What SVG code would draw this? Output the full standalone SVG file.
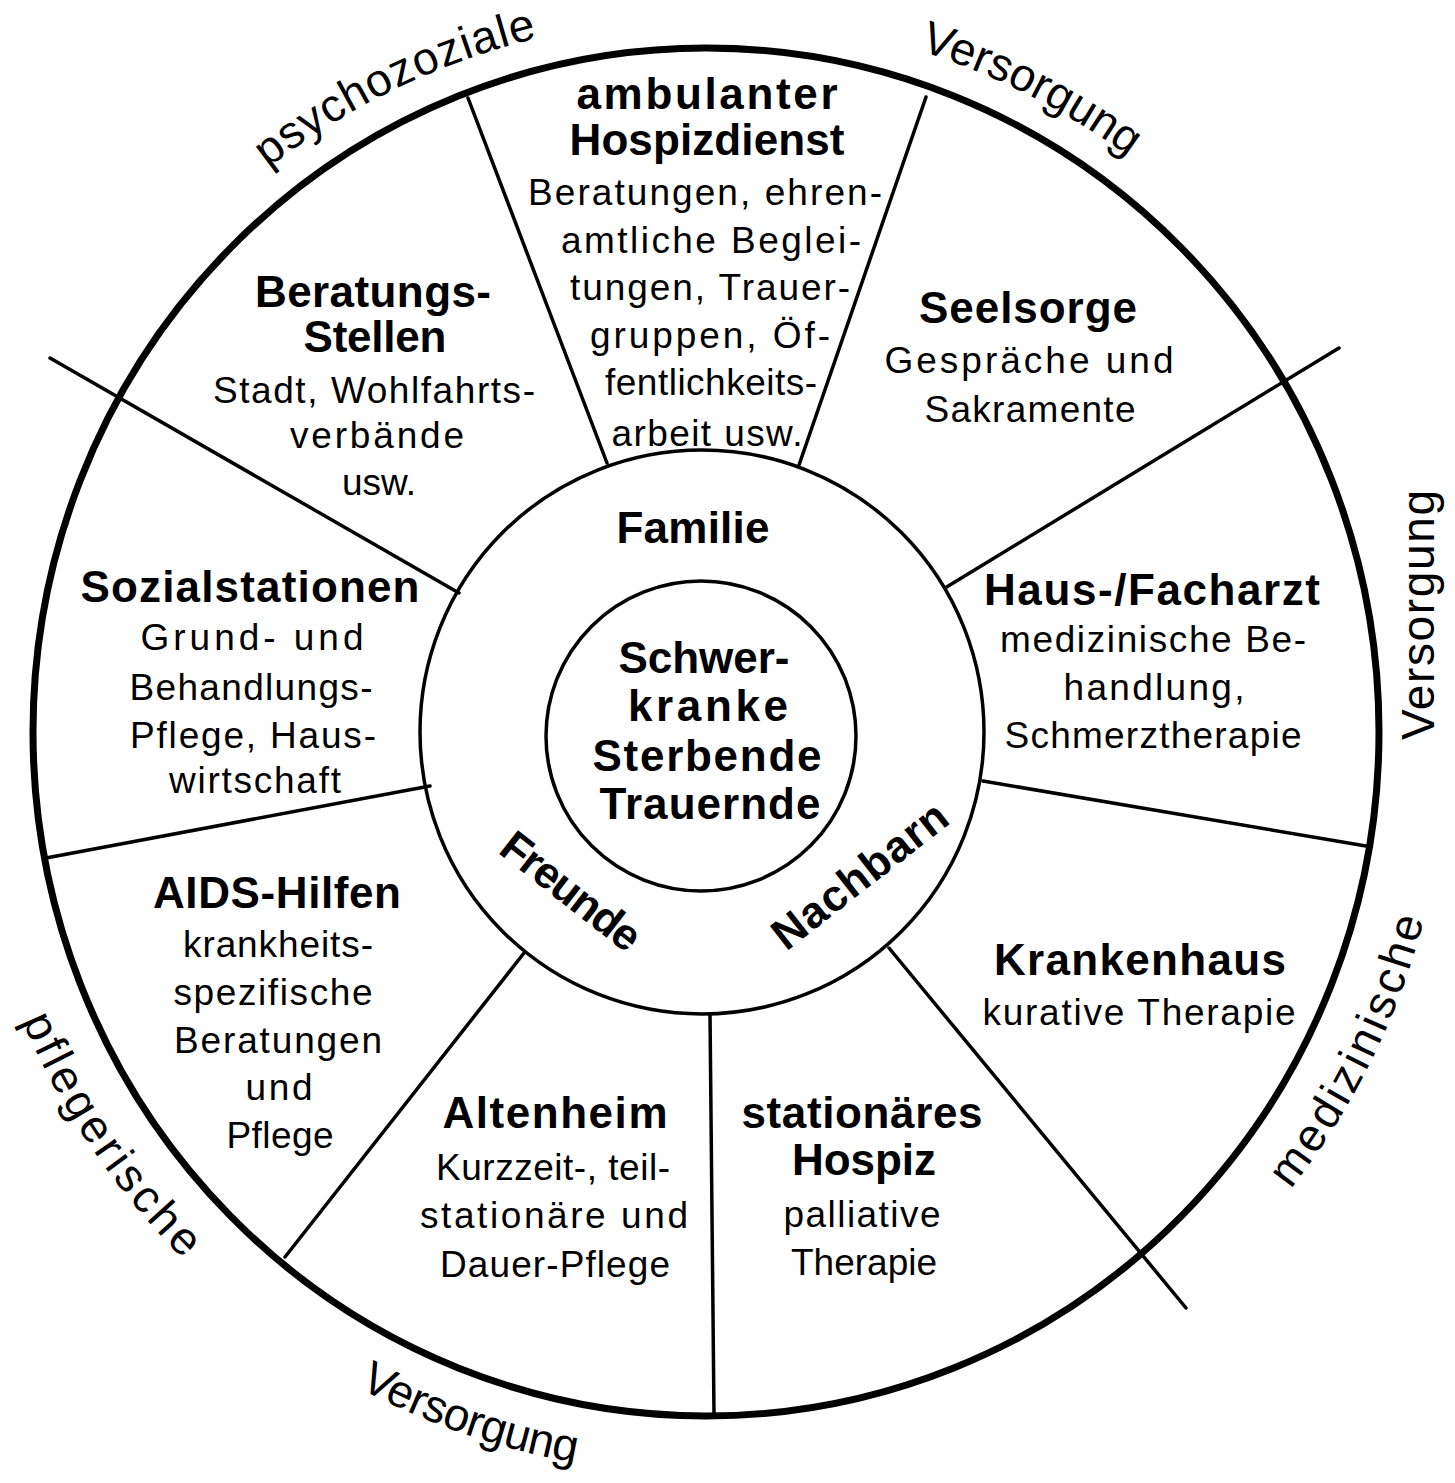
<svg xmlns="http://www.w3.org/2000/svg" width="1455" height="1483" viewBox="0 0 1455 1483">
<defs>
<style>
.t{font-family:"Liberation Sans",Arial,sans-serif;font-weight:bold;font-size:44px;text-anchor:middle;fill:#000}
.b{font-family:"Liberation Sans",Arial,sans-serif;font-size:37px;text-anchor:middle;fill:#000}
.r{font-family:"Liberation Sans",Arial,sans-serif;font-size:46px;fill:#000;text-anchor:middle}
.d{stroke:#000;stroke-width:3.5;fill:none;stroke-linecap:round}
.ring{stroke:#000;fill:none}
</style>
<path id="cw" d="M -8,732 A 714 714 0 1 1 1420,732 A 714 714 0 1 1 -8,732"/>
<path id="ccw" d="M -36,732 A 742 742 0 1 0 1448,732 A 742 742 0 1 0 -36,732"/>
</defs>
<rect width="1455" height="1483" fill="#fff"/>

<g id="rings">
<ellipse class="ring" cx="706" cy="732" rx="673" ry="684" stroke-width="7"/>
<circle class="ring" cx="702" cy="732" r="282" stroke-width="3.5"/>
<circle class="ring" cx="701" cy="736" r="155" stroke-width="3.5"/>
</g>

<g id="connectors">
<line class="d" x1="50" y1="358" x2="459" y2="593"/>
<line class="d" x1="468" y1="98" x2="607" y2="463"/>
<line class="d" x1="926" y1="97" x2="799" y2="465"/>
<line class="d" x1="1339" y1="348" x2="945" y2="588"/>
<line class="d" x1="983" y1="781" x2="1366" y2="846"/>
<line class="d" x1="889" y1="948" x2="1186" y2="1308"/>
<line class="d" x1="710" y1="1014" x2="714" y2="1414"/>
<line class="d" x1="524" y1="953" x2="285" y2="1257"/>
<line class="d" x1="430" y1="786" x2="46" y2="858"/>
</g>

<g id="ring-labels">
<text class="r" letter-spacing="1"><textPath href="#cw" startOffset="801">psychozoziale</textPath></text>
<text class="r"><textPath href="#cw" startOffset="1456">Versorgung</textPath></text>
<text class="r" x="1434" y="615" transform="rotate(-90 1434 615)" textLength="250">Versorgung</text>
<text class="r" letter-spacing="3.4"><textPath href="#ccw" startOffset="1992">medizinische</textPath></text>
<text class="r" letter-spacing="-0.6"><textPath href="#ccw" startOffset="919">Versorgung</textPath></text>
<text class="r" letter-spacing="3.8"><textPath href="#ccw" startOffset="443">pflegerische</textPath></text>
</g>

<g id="center">
<text class="t" x="704" y="673" textLength="171">Schwer-</text>
<text class="t" x="708" y="721" textLength="160">kranke</text>
<text class="t" x="707" y="771" textLength="229">Sterbende</text>
<text class="t" x="710" y="819" textLength="221">Trauernde</text>
</g>

<g id="familie">
<text class="t" x="693" y="543" textLength="153">Familie</text>
</g>
<g id="freunde">
<text class="t" x="562" y="903" transform="rotate(38 562 903)" textLength="165">Freunde</text>
</g>
<g id="nachbarn">
<text class="t" x="869" y="887" transform="rotate(-38 869 887)" textLength="210">Nachbarn</text>
</g>

<g id="ambulanter-hospizdienst">
<text class="t" x="707" y="109" textLength="261">ambulanter</text>
<text class="t" x="707" y="155" textLength="275">Hospizdienst</text>
<text class="b" x="705" y="205" textLength="354">Beratungen, ehren-</text>
<text class="b" x="711" y="253" textLength="300">amtliche Beglei-</text>
<text class="b" x="710" y="300" textLength="280">tungen, Trauer-</text>
<text class="b" x="710" y="348" textLength="240">gruppen, Öf-</text>
<text class="b" x="711" y="395" textLength="212">fentlichkeits-</text>
<text class="b" x="707" y="446" textLength="191">arbeit usw.</text>
</g>

<g id="beratungsstellen">
<text class="t" x="373" y="307" textLength="236">Beratungs-</text>
<text class="t" x="375" y="352" textLength="143">Stellen</text>
<text class="b" x="374" y="403" textLength="322">Stadt, Wohlfahrts-</text>
<text class="b" x="377" y="448" textLength="174">verbände</text>
<text class="b" x="379" y="495">usw.</text>
</g>

<g id="seelsorge">
<text class="t" x="1028" y="323" textLength="218">Seelsorge</text>
<text class="b" x="1029" y="373" textLength="289">Gespräche und</text>
<text class="b" x="1030" y="422" textLength="211">Sakramente</text>
</g>

<g id="sozialstationen">
<text class="t" x="250" y="602" textLength="339">Sozialstationen</text>
<text class="b" x="252" y="650" textLength="223">Grund- und</text>
<text class="b" x="251" y="700" textLength="243">Behandlungs-</text>
<text class="b" x="253" y="748" textLength="246">Pflege, Haus-</text>
<text class="b" x="255" y="793" textLength="172">wirtschaft</text>
</g>

<g id="hausarzt">
<text class="t" x="1152" y="605" textLength="336">Haus-/Facharzt</text>
<text class="b" x="1153" y="652" textLength="306">medizinische Be-</text>
<text class="b" x="1154" y="700" textLength="181">handlung,</text>
<text class="b" x="1153" y="748" textLength="297">Schmerztherapie</text>
</g>

<g id="aids-hilfen">
<text class="t" x="277" y="908" textLength="248">AIDS-Hilfen</text>
<text class="b" x="278" y="957" textLength="190">krankheits-</text>
<text class="b" x="273" y="1005" textLength="199">spezifische</text>
<text class="b" x="278" y="1053" textLength="208">Beratungen</text>
<text class="b" x="279" y="1100" textLength="67">und</text>
<text class="b" x="280" y="1148" textLength="107">Pflege</text>
</g>

<g id="krankenhaus">
<text class="t" x="1140" y="975" textLength="292">Krankenhaus</text>
<text class="b" x="1139" y="1025" textLength="313">kurative Therapie</text>
</g>

<g id="altenheim">
<text class="t" x="555" y="1128" textLength="225">Altenheim</text>
<text class="b" x="553" y="1180" textLength="234">Kurzzeit-, teil-</text>
<text class="b" x="554" y="1228" textLength="268">stationäre und</text>
<text class="b" x="555" y="1277" textLength="230">Dauer-Pflege</text>
</g>

<g id="stationaeres-hospiz">
<text class="t" x="862" y="1128" textLength="241">stationäres</text>
<text class="t" x="864" y="1175" textLength="144">Hospiz</text>
<text class="b" x="862" y="1227" textLength="157">palliative</text>
<text class="b" x="864" y="1275">Therapie</text>
</g>
</svg>
